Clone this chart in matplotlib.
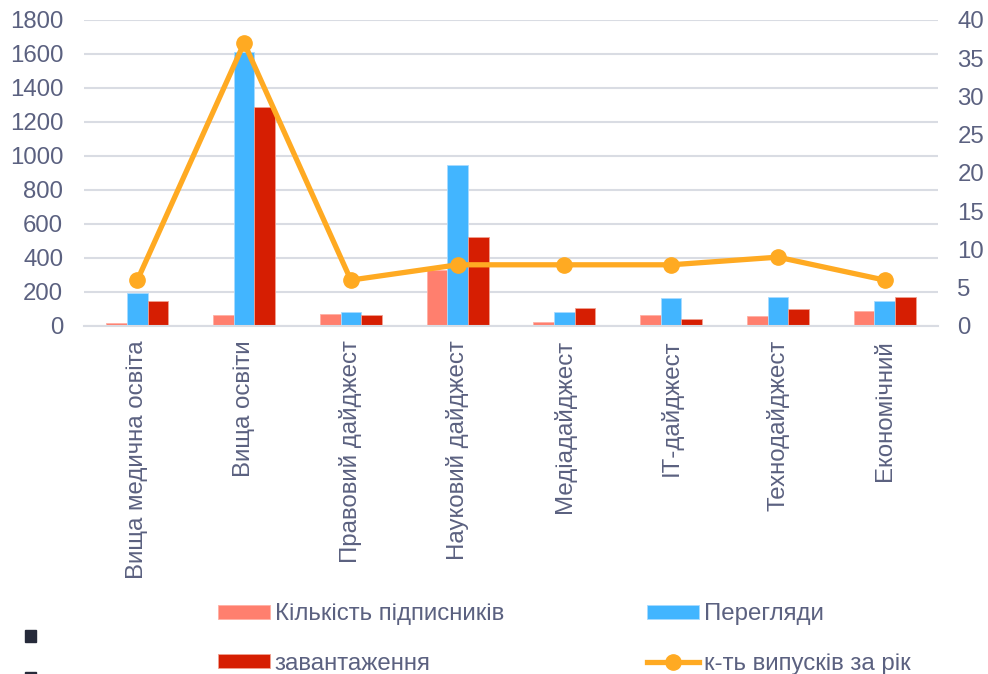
import numpy as np
import matplotlib
matplotlib.use('Agg')
import matplotlib.pyplot as plt
from matplotlib.patches import Rectangle

plt.rcParams['font.family'] = ['Liberation Sans', 'DejaVu Sans']

# Chart data
categories = ['Вища медична освіта', 'Вища освіти', 'Правовий дайджест',
              'Науковий дайджест', 'Медіадайджест', 'ІТ-дайджест',
              'Технодайджест', 'Економічний']
subscribers = [18, 63, 69, 329, 26, 65, 59, 88]
views = [196, 1612, 82, 947, 82, 163, 172, 147]
downloads = [147, 1288, 63, 525, 106, 41, 102, 172]
issues = [6, 37, 6, 8, 8, 8, 9, 6]

text_col = '#5B6180'
grid_col = '#D9DCE3'
fs = 17.3

fig = plt.figure(figsize=(9.88, 6.74), dpi=100)
ax = fig.add_axes([84 / 988, 1 - 326 / 674, (938 - 84) / 988, 306 / 674])
ax2 = ax.twinx()

x = np.arange(len(categories))
w = 0.193
b1 = ax.bar(x - w, subscribers, w, color='#FF7F6E', edgecolor='#FFB0A5', linewidth=0.6,
            label='Кількість підписників', zorder=2)
b2 = ax.bar(x, views, w, color='#42B5FF', edgecolor='#A8DBFF', linewidth=0.6,
            label='Перегляди', zorder=2)
b3 = ax.bar(x + w, downloads, w, color='#D61E02', edgecolor='#F0A090', linewidth=0.6,
            label='завантаження', zorder=2)
l1, = ax2.plot(x, issues, color='#FFAA22', linewidth=3.8, marker='o', markersize=11,
               label='к-ть випусків за рік', zorder=3)

ax.set_xlim(-0.5, len(categories) - 0.5)
ax.set_ylim(0, 1800)
ax.set_yticks(range(0, 1801, 200))
ax2.set_ylim(0, 40)
ax2.set_yticks(range(0, 41, 5))
ax.yaxis.grid(True, color=grid_col, linewidth=1.5, zorder=0)
ax.set_axisbelow(True)

for a in (ax, ax2):
    for s in a.spines.values():
        s.set_visible(False)
    a.tick_params(length=0, labelsize=fs, labelcolor=text_col)
ax.spines['bottom'].set_visible(True)
ax.spines['bottom'].set_color(grid_col)
ax.spines['bottom'].set_linewidth(1.5)
ax.tick_params(axis='y', pad=15)
ax2.tick_params(axis='y', pad=14)

ax.set_xticks(x)
ax.set_xticklabels(categories, rotation=90, va='top', ha='center')
ax.tick_params(axis='x', pad=10)

fig.legend([b1, b3, b2, l1],
           ['Кількість підписників', 'завантаження', 'Перегляди', 'к-ть випусків за рік'],
           ncol=2, loc='center', bbox_to_anchor=(564 / 988, 1 - 639 / 674),
           frameon=False, fontsize=fs, labelcolor=text_col, handlelength=2.16,
           handleheight=0.5, handletextpad=0.2, columnspacing=5.95,
           labelspacing=1.15)

# small stray marks at the bottom left
fig.patches.append(Rectangle((25 / 988, 1 - 642 / 674), 11 / 988, 12 / 674,
                             transform=fig.transFigure, color='#262A3A'))
fig.patches.append(Rectangle((25 / 988, 0), 11 / 988, 2 / 674,
                             transform=fig.transFigure, color='#262A3A'))

fig.savefig('out.png', dpi=100)
